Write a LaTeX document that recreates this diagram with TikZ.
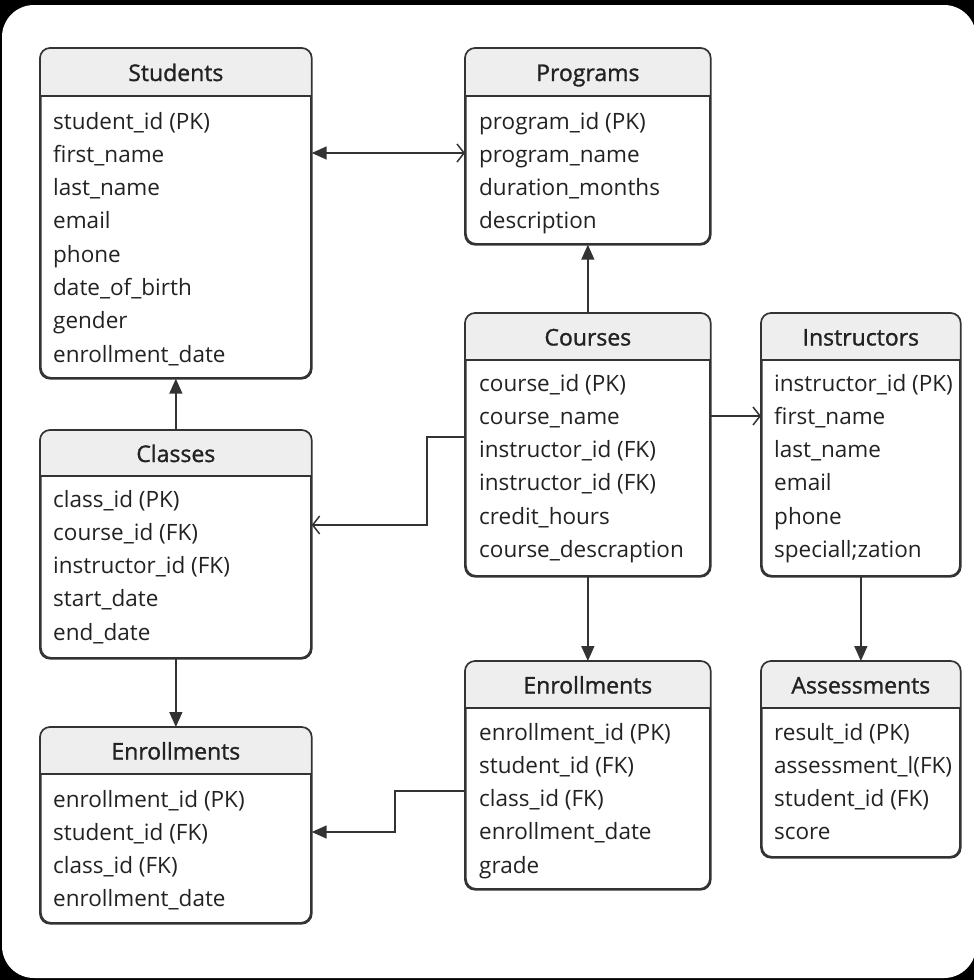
\documentclass[tikz,border=0pt]{standalone}
\usepackage{fontspec}
\setmainfont{Open Sans}
\newfontfamily\ttlfont[FakeBold=1.2]{Open Sans}
\usetikzlibrary{arrows.meta}
\definecolor{ink}{HTML}{222222}
\definecolor{edge}{HTML}{333333}
\definecolor{hdr}{HTML}{EEEEEE}
\tikzset{
  x=1pt, y=-1pt,
  tblbox/.style={draw=edge, line width=1.7pt, fill=white, rounded corners=10pt, inner sep=0pt},
  tblline/.style={draw=edge, line width=1.7pt},
  titletext/.style={font=\ttlfont\fontsize{23}{26}\selectfont, text=ink, inner sep=0pt, anchor=base},
  rowtext/.style={font=\fontsize{22.5}{26}\selectfont, text=ink, inner sep=0pt, anchor=base west},
  conn/.style={draw=edge, line width=1.5pt},
  solidtip/.style={-{Triangle[length=15pt,width=13pt]}},
  opentip/.style={-{Straight Barb[length=7pt,width=18pt,line width=1.5pt]}},
}
\newcommand\ertable[7]{%
  \node[tblbox, minimum width=#4pt, minimum height=#5pt, anchor=north west] (#1) at (#2,#3) {};
  \begin{scope}
    \clip[rounded corners=10pt] (#1.north west) rectangle (#1.south east);
    \fill[hdr] (#1.north west) rectangle ([yshift=-#6pt]#1.north east);
  \end{scope}
  \draw[tblline] ([yshift=-#6pt]#1.north west) -- ([yshift=-#6pt]#1.north east);
  \draw[tblline, rounded corners=10pt] (#1.north west) rectangle (#1.south east);
  \node[titletext] (#1-title) at ([yshift={-(#6/2+9)*1pt}]#1.north) {#7};
}
\newcommand\errows[4]{%
  \foreach \t [count=\i] in {#4} {
    \node[rowtext] (#1-r\i) at (#2, {#3+9+(\i-1)*33.3}) {\t};
  }
}
\begin{document}
\begin{tikzpicture}
\useasboundingbox (0,0) rectangle (974,980);
\fill[black] (0,0) rectangle (974,980);
\fill[white, rounded corners=32pt] (2,5) rectangle (976,978);

\ertable{students}{40}{48}{270}{329}{48}{Students}
\errows{students}{53}{120}{student\_id (PK),first\_name,last\_name,email,phone,date\_of\_birth,gender,enrollment\_date}

\ertable{programs}{465}{48}{244}{195}{48}{Programs}
\errows{programs}{479}{120}{program\_id (PK),program\_name,duration\_months,description}

\ertable{courses}{465}{313}{244}{262}{47}{Courses}
\errows{courses}{479}{382}{course\_id (PK),course\_name,instructor\_id (FK),instructor\_id (FK),credit\_hours,course\_descraption}

\ertable{instructors}{761}{313}{198}{262}{47}{Instructors}
\errows{instructors}{774}{382}{instructor\_id (PK),first\_name,last\_name,email,phone,speciall;zation}

\ertable{classes}{40}{430}{270}{227}{46}{Classes}
\errows{classes}{53}{498}{class\_id (PK),course\_id (FK),instructor\_id (FK),start\_date,end\_date}

\ertable{enrollL}{40}{727}{270}{195}{47}{Enrollments}
\errows{enrollL}{53}{798}{enrollment\_id (PK),student\_id (FK),class\_id (FK),enrollment\_date}

\ertable{enrollM}{465}{661}{244}{227}{47}{Enrollments}
\errows{enrollM}{479}{731}{enrollment\_id (PK),student\_id (FK),class\_id (FK),enrollment\_date,grade}

\ertable{assess}{761}{661}{198}{195}{47}{Assessments}
\errows{assess}{774}{731}{result\_id (PK),assessment\_l(FK),student\_id (FK),score}

% helper coordinates
\coordinate (h153) at (0,153);
\coordinate (h416) at (0,416);
\coordinate (b1) at (427,437);
\coordinate (b2) at (427,525);
\coordinate (b3) at (395,791);
\coordinate (b4) at (395,832);

% connectors
\draw[conn, {Triangle[length=15pt,width=13pt]}-{Straight Barb[length=7pt,width=18pt,line width=1.5pt]}]
  (students.east |- h153) -- (programs.west |- h153);
\draw[conn, solidtip] (courses.north) -- (programs.south);
\draw[conn, opentip] (courses.east |- h416) -- (instructors.west |- h416);
\draw[conn, opentip] (courses.west |- b1) -- (b1) -- (b2) -- (classes.east |- b2);
\draw[conn, solidtip] (classes.north) -- (students.south);
\draw[conn, solidtip] (classes.south) -- (enrollL.north);
\draw[conn, solidtip] (courses.south) -- (enrollM.north);
\draw[conn, solidtip] (instructors.south) -- (assess.north);
\draw[conn, solidtip] (enrollM.west |- b3) -- (b3) -- (b4) -- (enrollL.east |- b4);
\end{tikzpicture}
\end{document}
